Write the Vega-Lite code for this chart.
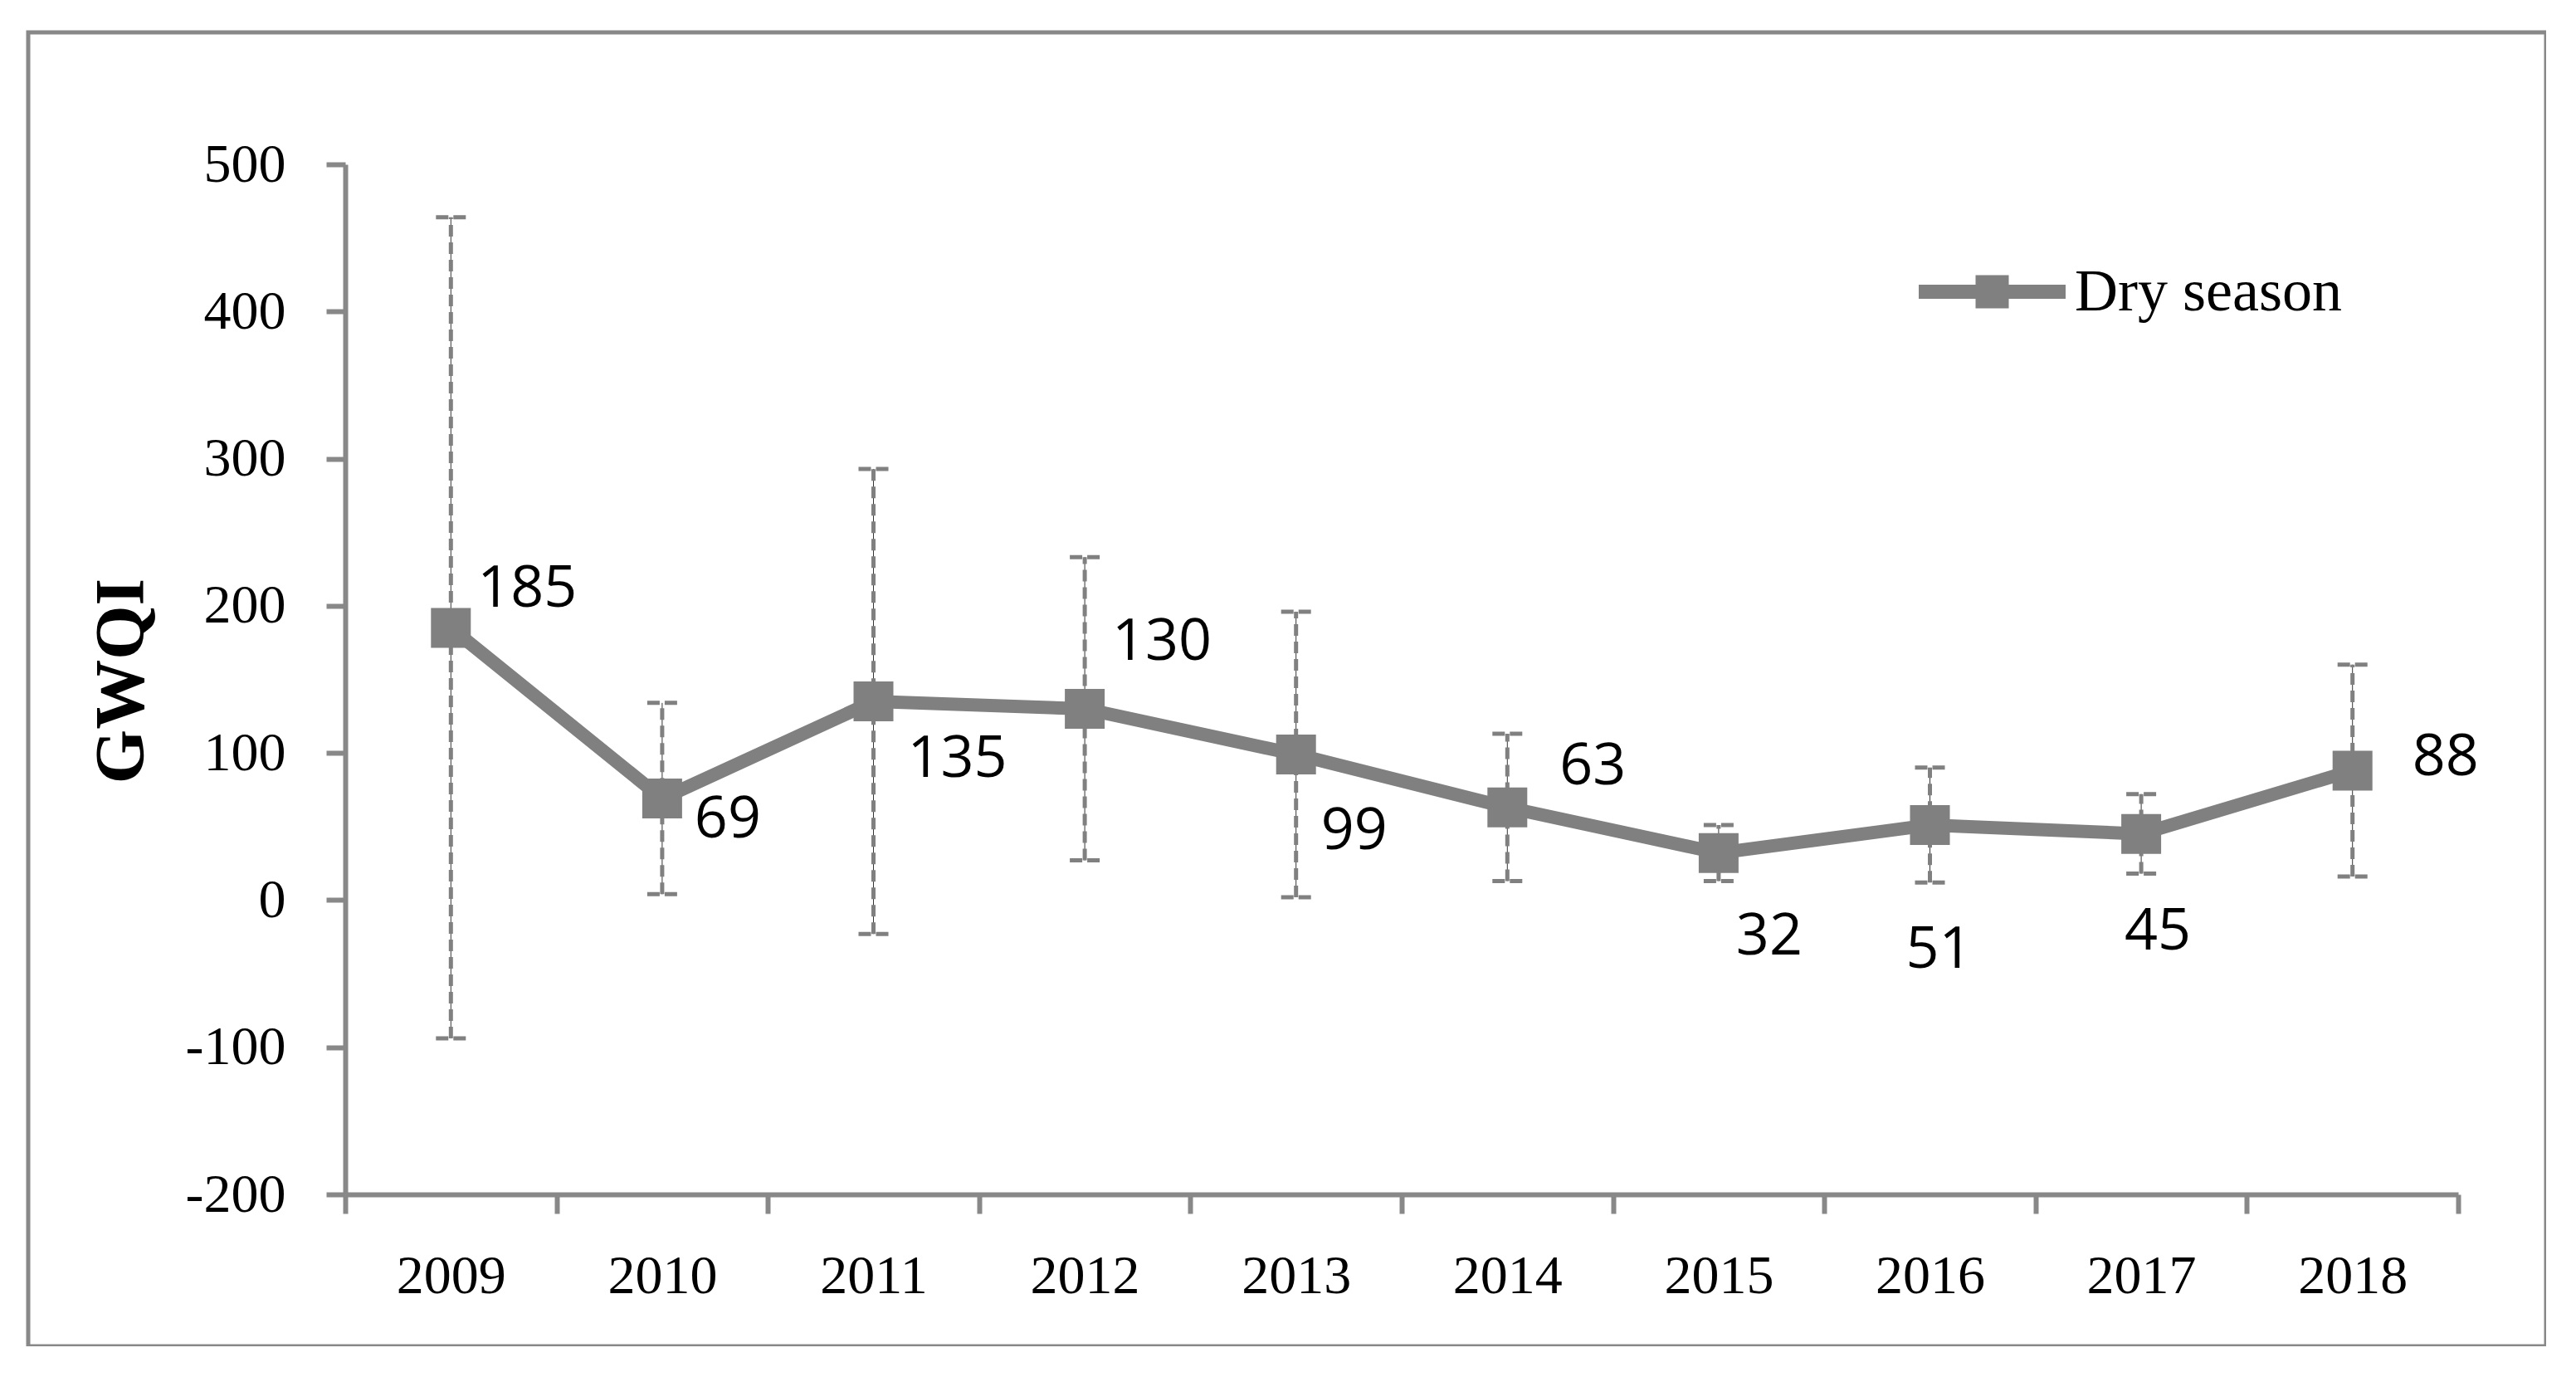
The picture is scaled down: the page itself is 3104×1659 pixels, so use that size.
{
  "$schema": "https://vega.github.io/schema/vega-lite/v6.json",
  "autosize": {"type": "none"},
  "padding": {"left": 34, "top": 39, "right": 0, "bottom": 0},
  "width": 3034,
  "height": 1583,
  "background": "white",
  "config": {
    "view": {"stroke": "#888888", "strokeWidth": 5},
    "axis": {"grid": false}
  },
  "data": {
    "values": [
      {"year": "2009", "value": 185, "low": -94, "high": 464, "series": "Dry season"},
      {"year": "2010", "value": 69, "low": 4, "high": 134, "series": "Dry season"},
      {"year": "2011", "value": 135, "low": -23, "high": 293, "series": "Dry season"},
      {"year": "2012", "value": 130, "low": 27, "high": 233, "series": "Dry season"},
      {"year": "2013", "value": 99, "low": 2, "high": 196, "series": "Dry season"},
      {"year": "2014", "value": 63, "low": 13, "high": 113, "series": "Dry season"},
      {"year": "2015", "value": 32, "low": 13, "high": 51, "series": "Dry season"},
      {"year": "2016", "value": 51, "low": 12, "high": 90, "series": "Dry season"},
      {"year": "2017", "value": 45, "low": 18, "high": 72, "series": "Dry season"},
      {"year": "2018", "value": 88, "low": 16, "high": 160, "series": "Dry season"}
    ]
  },
  "encoding": {
    "x": {
      "field": "year", "type": "ordinal",
      "scale": {"type": "band", "paddingInner": 0, "paddingOuter": 0, "range": [382, 2928]},
      "axis": {
        "title": null, "offset": -183, "tickBand": "extent",
        "domainColor": "#888888", "domainWidth": 6, "tickColor": "#888888", "tickWidth": 6, "tickSize": 23,
        "labelFont": "Liberation Serif", "labelFontSize": 66, "labelColor": "#000000", "labelPadding": 43, "labelAngle": 0
      }
    }
  },
  "layer": [
    {
      "mark": {"type": "rule", "color": "#000000", "strokeWidth": 0.8},
      "encoding": {
        "y": {
          "field": "low", "type": "quantitative",
          "scale": {"domain": [-200, 500], "range": [1400, 159], "nice": false, "zero": false},
          "axis": {
            "title": "GWQI", "offset": -382, "values": [-200, -100, 0, 100, 200, 300, 400, 500],
            "labelExpr": "'' + datum.value",
            "domainColor": "#888888", "domainWidth": 6, "tickColor": "#888888", "tickWidth": 6, "tickSize": 23,
            "labelFont": "Liberation Serif", "labelFontSize": 66, "labelColor": "#000000", "labelPadding": 49,
            "titleFont": "Liberation Serif", "titleFontSize": 84, "titleFontWeight": "bold", "titleColor": "#000000",
            "titleX": -244, "titleY": 781, "titleAlign": "center", "titleBaseline": "alphabetic", "titleAngle": -90
          }
        },
        "y2": {"field": "high"}
      }
    },
    {
      "mark": {"type": "rule", "color": "#808080", "strokeWidth": 5, "strokeDash": [14, 7]},
      "encoding": {"y": {"field": "low", "type": "quantitative"}, "y2": {"field": "high"}}
    },
    {
      "mark": {"type": "rule", "color": "#808080", "strokeWidth": 5, "strokeDash": [15, 6], "xOffset": -18, "x2Offset": 18},
      "encoding": {"x2": {"field": "year"}, "y": {"field": "high", "type": "quantitative"}}
    },
    {
      "mark": {"type": "rule", "color": "#808080", "strokeWidth": 5, "strokeDash": [15, 6], "xOffset": -18, "x2Offset": 18},
      "encoding": {"x2": {"field": "year"}, "y": {"field": "low", "type": "quantitative"}}
    },
    {
      "mark": {"type": "line", "color": "#808080", "strokeWidth": 16},
      "encoding": {"y": {"field": "value", "type": "quantitative"}}
    },
    {
      "mark": {"type": "point", "shape": "square", "filled": true, "size": 2304, "opacity": 1},
      "encoding": {
        "y": {"field": "value", "type": "quantitative"},
        "color": {
          "field": "series", "type": "nominal",
          "scale": {"range": ["#808080"]},
          "legend": {
            "title": null, "orient": "none", "legendX": 2278, "legendY": 224, "padding": 0,
            "symbolType": "M-1,-0.096H1V0.096H-1Z M-0.226,-0.226H0.226V0.226H-0.226Z",
            "symbolSize": 31329, "symbolStrokeWidth": 0, "symbolOpacity": 1,
            "labelFont": "Liberation Serif", "labelFontSize": 72, "labelColor": "#000000", "labelOffset": 11, "labelLimit": 0
          }
        }
      }
    },
    {
      "transform": [{"filter": {"field": "year", "oneOf": ["2009"]}}],
      "mark": {"type": "text", "font": "Open Sans", "fontSize": 70, "color": "#000000", "align": "center", "baseline": "middle", "dx": 92, "dy": -46},
      "encoding": {"y": {"field": "value", "type": "quantitative"}, "text": {"field": "value", "type": "quantitative"}}
    },
    {
      "transform": [{"filter": {"field": "year", "oneOf": ["2010"]}}],
      "mark": {"type": "text", "font": "Open Sans", "fontSize": 70, "color": "#000000", "align": "center", "baseline": "middle", "dx": 79, "dy": 26},
      "encoding": {"y": {"field": "value", "type": "quantitative"}, "text": {"field": "value", "type": "quantitative"}}
    },
    {
      "transform": [{"filter": {"field": "year", "oneOf": ["2011"]}}],
      "mark": {"type": "text", "font": "Open Sans", "fontSize": 70, "color": "#000000", "align": "center", "baseline": "middle", "dx": 101, "dy": 70},
      "encoding": {"y": {"field": "value", "type": "quantitative"}, "text": {"field": "value", "type": "quantitative"}}
    },
    {
      "transform": [{"filter": {"field": "year", "oneOf": ["2012"]}}],
      "mark": {"type": "text", "font": "Open Sans", "fontSize": 70, "color": "#000000", "align": "center", "baseline": "middle", "dx": 93, "dy": -80},
      "encoding": {"y": {"field": "value", "type": "quantitative"}, "text": {"field": "value", "type": "quantitative"}}
    },
    {
      "transform": [{"filter": {"field": "year", "oneOf": ["2013"]}}],
      "mark": {"type": "text", "font": "Open Sans", "fontSize": 70, "color": "#000000", "align": "center", "baseline": "middle", "dx": 70, "dy": 93},
      "encoding": {"y": {"field": "value", "type": "quantitative"}, "text": {"field": "value", "type": "quantitative"}}
    },
    {
      "transform": [{"filter": {"field": "year", "oneOf": ["2014"]}}],
      "mark": {"type": "text", "font": "Open Sans", "fontSize": 70, "color": "#000000", "align": "center", "baseline": "middle", "dx": 103, "dy": -49},
      "encoding": {"y": {"field": "value", "type": "quantitative"}, "text": {"field": "value", "type": "quantitative"}}
    },
    {
      "transform": [{"filter": {"field": "year", "oneOf": ["2015"]}}],
      "mark": {"type": "text", "font": "Open Sans", "fontSize": 70, "color": "#000000", "align": "center", "baseline": "middle", "dx": 61, "dy": 101},
      "encoding": {"y": {"field": "value", "type": "quantitative"}, "text": {"field": "value", "type": "quantitative"}}
    },
    {
      "transform": [{"filter": {"field": "year", "oneOf": ["2016"]}}],
      "mark": {"type": "text", "font": "Open Sans", "fontSize": 70, "color": "#000000", "align": "center", "baseline": "middle", "dx": 11, "dy": 151},
      "encoding": {"y": {"field": "value", "type": "quantitative"}, "text": {"field": "value", "type": "quantitative"}}
    },
    {
      "transform": [{"filter": {"field": "year", "oneOf": ["2017"]}}],
      "mark": {"type": "text", "font": "Open Sans", "fontSize": 70, "color": "#000000", "align": "center", "baseline": "middle", "dx": 20, "dy": 118},
      "encoding": {"y": {"field": "value", "type": "quantitative"}, "text": {"field": "value", "type": "quantitative"}}
    },
    {
      "transform": [{"filter": {"field": "year", "oneOf": ["2018"]}}],
      "mark": {"type": "text", "font": "Open Sans", "fontSize": 70, "color": "#000000", "align": "center", "baseline": "middle", "dx": 112, "dy": -15},
      "encoding": {"y": {"field": "value", "type": "quantitative"}, "text": {"field": "value", "type": "quantitative"}}
    }
  ]
}
